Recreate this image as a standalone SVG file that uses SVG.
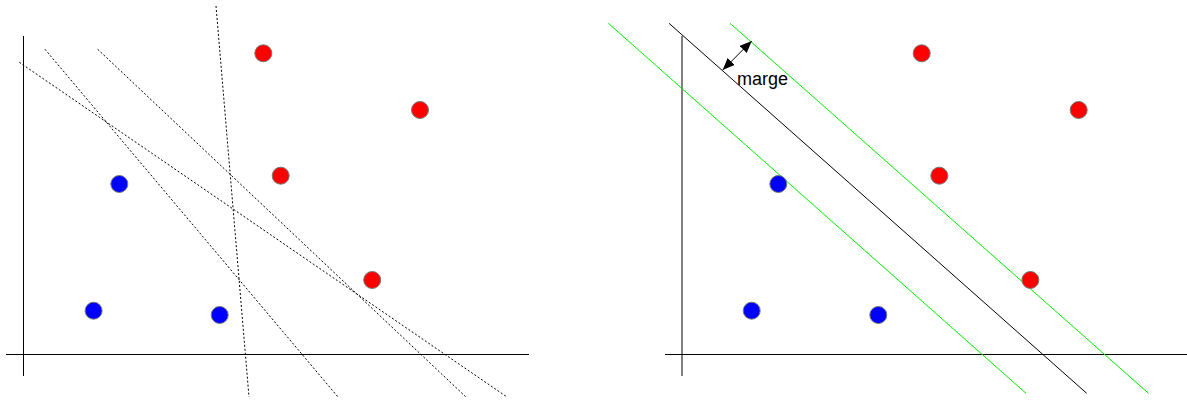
<svg xmlns="http://www.w3.org/2000/svg" width="1187" height="401" viewBox="0 0 1187 401">
<style>
.axis{stroke:#000;stroke-width:1;fill:none}
.dash{stroke:#000;stroke-width:1;stroke-dasharray:2,2;fill:none}
.sep{stroke:#000;stroke-width:1;fill:none}
.marg{stroke:#00ee00;stroke-width:1;fill:none}
.red{fill:#ff0000;stroke:#777;stroke-width:1}
.blue{fill:#0000ff;stroke:#777;stroke-width:1}
.lbl{font-family:"Liberation Sans",Arial,sans-serif;font-size:18px;fill:#000}
</style>
<defs>
<marker id="ah" viewBox="0 0 12 10" refX="12" refY="5" markerWidth="12" markerHeight="10" markerUnits="userSpaceOnUse" orient="auto-start-reverse">
<path d="M0,0 L12,5 L0,10 z" fill="#000"/>
</marker>
</defs>
<rect width="1187" height="401" fill="#fff"/>
<g id="connectors">
<!-- left panel axes -->
<line class="axis" x1="23.5" y1="36" x2="23.5" y2="376"/>
<line class="axis" x1="6" y1="354.5" x2="529" y2="354.5"/>
<!-- left panel candidate separators -->
<line class="dash" x1="19.3" y1="62.3" x2="507" y2="397"/>
<line class="dash" x1="45" y1="49.3" x2="338" y2="397"/>
<line class="dash" x1="97.7" y1="49.3" x2="466" y2="397"/>
<line class="dash" x1="216" y1="6" x2="249" y2="397"/>
<!-- right panel axes -->
<line class="axis" x1="682" y1="36" x2="682" y2="376"/>
<line class="axis" x1="665" y1="354.5" x2="1187" y2="354.5"/>
<!-- right panel optimal separator and margins -->
<line class="marg" x1="608.3" y1="23.3" x2="1026" y2="393.3"/>
<line class="sep" x1="669" y1="23.3" x2="1086.7" y2="393.3"/>
<line class="marg" x1="730" y1="23.3" x2="1148.5" y2="393.3"/>
<line class="sep" x1="722.7" y1="70" x2="751.7" y2="41" marker-start="url(#ah)" marker-end="url(#ah)"/>
</g>
<g id="label-marge"><text class="lbl" x="737" y="85">marge</text></g>
<g id="left-red-1"><circle class="red" cx="263.3" cy="53.3" r="8.5"/></g>
<g id="left-red-2"><circle class="red" cx="420" cy="110" r="8.5"/></g>
<g id="left-red-3"><circle class="red" cx="280.7" cy="175.7" r="8.5"/></g>
<g id="left-red-4"><circle class="red" cx="372.2" cy="280" r="8.5"/></g>
<g id="left-blue-1"><circle class="blue" cx="119.3" cy="184" r="8.5"/></g>
<g id="left-blue-2"><circle class="blue" cx="93.6" cy="310.7" r="8.5"/></g>
<g id="left-blue-3"><circle class="blue" cx="219.7" cy="315" r="8.5"/></g>
<g id="right-red-1"><circle class="red" cx="921.7" cy="53.3" r="8.5"/></g>
<g id="right-red-2"><circle class="red" cx="1078.7" cy="110" r="8.5"/></g>
<g id="right-red-3"><circle class="red" cx="939.3" cy="175.7" r="8.5"/></g>
<g id="right-red-4"><circle class="red" cx="1030.4" cy="280" r="8.5"/></g>
<g id="right-blue-1"><circle class="blue" cx="778.3" cy="184" r="8.5"/></g>
<g id="right-blue-2"><circle class="blue" cx="751.7" cy="310.7" r="8.5"/></g>
<g id="right-blue-3"><circle class="blue" cx="878.3" cy="315" r="8.5"/></g>
</svg>
